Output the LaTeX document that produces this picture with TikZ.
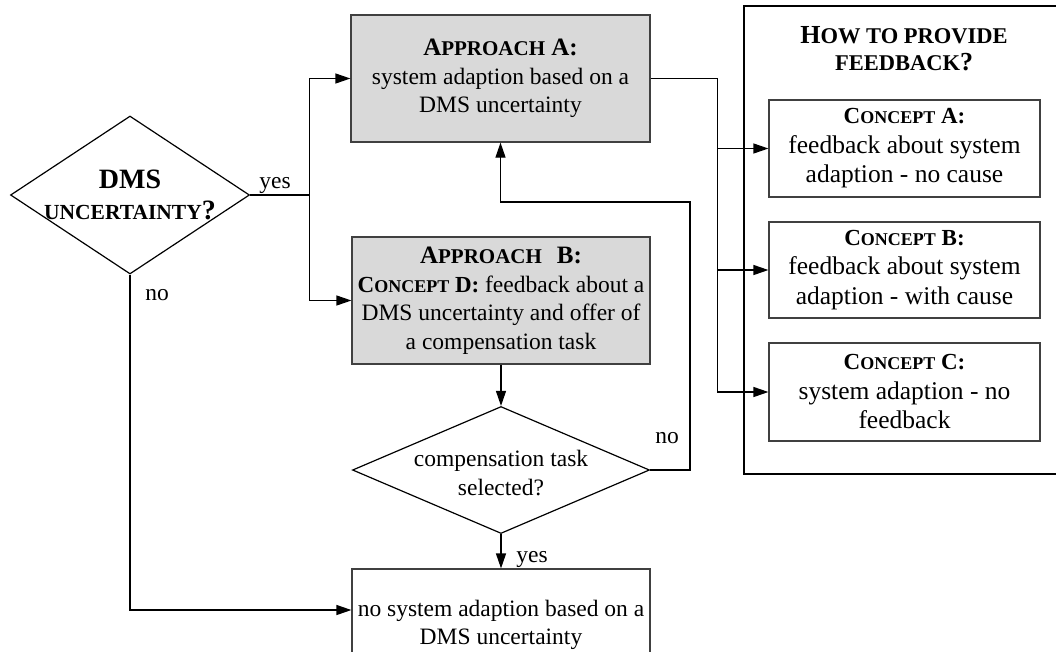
\documentclass[tikz,border=0pt]{standalone}
\usepackage{fontspec}
\setmainfont{Liberation Serif}
\usetikzlibrary{arrows.meta,shapes.geometric}

% small capitals faked with upper-case letters at a smaller size
\newcommand\smc[2]{{\fontsize{#1}{#1}\selectfont #2}}
\newcommand\bodyfont{\fontsize{23.5}{28.5}\selectfont}
\newcommand\conceptfont{\fontsize{25.5}{29.5}\selectfont}
\newcommand\apphead[1]{{\bfseries\fontsize{25}{28}\selectfont #1}}
\newcommand\conhead[1]{{\bfseries\fontsize{23}{26}\selectfont #1}}

\begin{document}
\begin{tikzpicture}[x=1pt,y=-1pt,
  conn/.style={draw=black, line width=1.2pt},
  arr/.style={conn, -{Triangle[length=15pt,width=10pt]}},
  box/.style={rectangle, draw=black!75, line width=1.2pt, inner sep=0pt,
    align=center, font=\bodyfont},
  apbox/.style={box, fill=gray!30},
  conbox/.style={box, font=\conceptfont, minimum width=271pt},
  decision/.style={diamond, draw=black, line width=1.2pt, inner sep=0pt},
  lbl/.style={font=\bodyfont, inner sep=0pt},
  panel/.style={draw=black, line width=1.2pt}]

\useasboundingbox (0,0) rectangle (1056,651);
\clip (0,0) rectangle (1056,651);

% decision: DMS uncertainty
\node[decision, minimum width=239pt, minimum height=158pt,
  label={[lbl, align=center]center:{{\bfseries\fontsize{28}{32}\selectfont DMS}\\[3pt]{\bfseries\smc{21.5}{UNCERTAINTY}\fontsize{28}{32}\selectfont ?}}}]
  (dms) at (130,195) {};

% approaches
\node[apbox, minimum width=299pt, minimum height=127pt] (apA) at (500.5,78.5)
  {\apphead{A\smc{21}{PPROACH} A:}\\ system adaption based on a\\ DMS uncertainty};
\node[apbox, minimum width=298pt, minimum height=127pt] (apB) at (501,300.5)
  {\apphead{A\smc{21}{PPROACH}\hspace{0.6em}B:}\\
   \conhead{C\smc{18}{ONCEPT} D:} feedback about a\\
   DMS uncertainty and offer of\\ a compensation task};

% decision: compensation task
\node[decision, minimum width=297pt, minimum height=127pt,
  label={[lbl, align=center, yshift=-3pt]center:{compensation task\\selected?}}]
  (cmp) at (501,470) {};

% final outcome box (runs past the lower edge)
\node[box, minimum width=298pt, minimum height=100pt,
  label={[lbl, align=center, yshift=-6pt]center:{no system adaption based on a\\DMS uncertainty}}]
  (bot) at (501,619) {};

% feedback panel
\draw[panel] (1060,6) -- (744,6) -- (744,474) -- (1060,474);
\node[lbl, align=center, font=\fontsize{26}{27}\selectfont] (head) at (904,48.5)
  {{\bfseries H\smc{22.5}{OW TO PROVIDE}}\\{\bfseries\smc{22.5}{FEEDBACK}?}};
\node[conbox, minimum height=97pt] (cA) at (904.5,148.5)
  {\conhead{C\smc{18}{ONCEPT} A:}\\ feedback about system\\ adaption - no cause};
\node[conbox, minimum height=96pt] (cB) at (904.5,270)
  {\conhead{C\smc{18}{ONCEPT} B:}\\ feedback about system\\ adaption - with cause};
\node[conbox, minimum height=98pt] (cC) at (904.5,392)
  {\conhead{C\smc{18}{ONCEPT} C:}\\ system adaption - no\\ feedback};

% connectors
\draw[conn] (dms.east) -- ++(59,0) coordinate (split);
\draw[arr] (split) |- (apA.west);
\draw[arr] (split) |- (apB.west);

\draw[conn] (apA.east) -- ++(67,0) coordinate (fork);
\draw[arr] (fork) |- (cA.west);
\draw[arr] (fork) |- (cB.west);
\draw[arr] (fork) |- (cC.west);

\draw[arr] (apB.south) -- (cmp.north);
\coordinate (loop) at (690,202);
\draw[arr] (cmp.east) -| (loop) -| (apA.south);
\draw[arr] (cmp.south) -- (bot.north);
\draw[arr] (dms.south) |- ([yshift=9pt]bot.west);

% branch labels
\node[lbl, anchor=base] (yes1) at (275,188) {yes};
\node[lbl, anchor=base] (no1) at (157,300) {no};
\node[lbl, anchor=base] (no2) at (667,443) {no};
\node[lbl, anchor=base] (yes2) at (532,562) {yes};

\end{tikzpicture}
\end{document}
